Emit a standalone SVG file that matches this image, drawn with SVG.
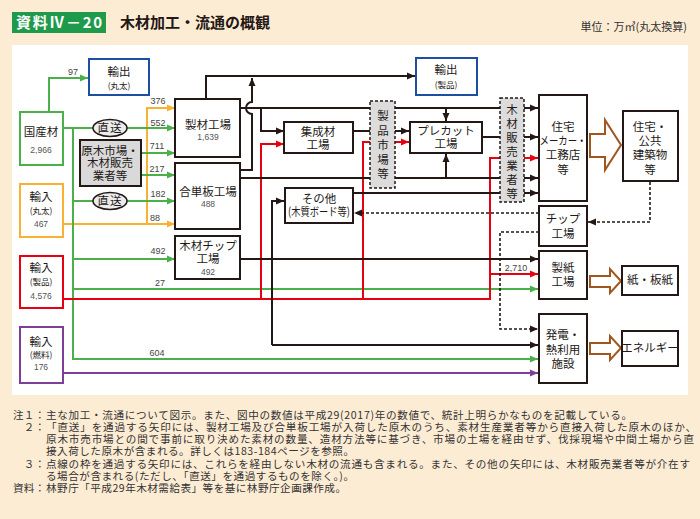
<svg xmlns="http://www.w3.org/2000/svg" width="700" height="519" viewBox="0 0 700 519">
<style>
.t{font-family:"Noto Sans CJK JP","Noto Sans",sans-serif;font-size:11.5px;fill:#231815;text-anchor:middle}
.n{font-family:"Liberation Sans",sans-serif;font-size:8.5px;fill:#555;text-anchor:middle}
.lb{font-family:"Liberation Sans",sans-serif;font-size:9px;fill:#444;text-anchor:middle}
.s{font-size:8.5px}
.note{font-family:"Noto Sans CJK JP","Noto Sans",sans-serif;font-size:10.6px;fill:#333}
.box{fill:#fff;stroke:#231815;stroke-width:2}
.gray{fill:#d9d9d9;stroke:#231815;stroke-width:2}
.dbox{fill:#dcdcdc;stroke:#231815;stroke-width:1.5;stroke-dasharray:3 2}
.g{stroke:#4cb04a;stroke-width:2;fill:none}
.o{stroke:#f8b133;stroke-width:2;fill:none}
.r{stroke:#e60012;stroke-width:2;fill:none}
.k{stroke:#231815;stroke-width:2;fill:none}
.p{stroke:#7d3f98;stroke-width:2;fill:none}
.d{stroke:#231815;stroke-width:1.6;fill:none;stroke-dasharray:3 2}
.br{fill:#fff;stroke:#a0561f;stroke-width:2}
</style>
<defs>
<marker id="ag" viewBox="0 0 8 8" markerWidth="8" markerHeight="8" refX="8" refY="4" markerUnits="userSpaceOnUse" orient="auto"><path d="M0,0.5 L8,4 L0,7.5z" fill="#4cb04a"/></marker>
<marker id="ao" viewBox="0 0 8 8" markerWidth="8" markerHeight="8" refX="8" refY="4" markerUnits="userSpaceOnUse" orient="auto"><path d="M0,0.5 L8,4 L0,7.5z" fill="#f8b133"/></marker>
<marker id="ar" viewBox="0 0 8 8" markerWidth="8" markerHeight="8" refX="8" refY="4" markerUnits="userSpaceOnUse" orient="auto"><path d="M0,0.5 L8,4 L0,7.5z" fill="#e60012"/></marker>
<marker id="ak" viewBox="0 0 8 8" markerWidth="8" markerHeight="8" refX="8" refY="4" markerUnits="userSpaceOnUse" orient="auto"><path d="M0,0.5 L8,4 L0,7.5z" fill="#231815"/></marker>
<marker id="ap" viewBox="0 0 8 8" markerWidth="8" markerHeight="8" refX="8" refY="4" markerUnits="userSpaceOnUse" orient="auto"><path d="M0,0.5 L8,4 L0,7.5z" fill="#7d3f98"/></marker>
</defs>
<rect width="700" height="519" fill="#fdecd4"/>
<rect x="12" y="45" width="676" height="350" fill="#fff"/>
<g id="title">
<rect x="12" y="12" width="94" height="21" fill="#1f9a4a"/>
<text x="16" y="28" font-family="Noto Sans CJK JP,sans-serif" font-size="15" font-weight="bold" fill="#fff" textLength="86">資料Ⅳ－20</text>
<text x="120" y="28" font-family="Noto Sans CJK JP,sans-serif" font-size="15" font-weight="bold" fill="#231815">木材加工・流通の概観</text>
<text x="687" y="31" font-family="Noto Sans CJK JP,sans-serif" font-size="11" fill="#333" text-anchor="end">単位：万㎥(丸太換算)</text>
</g>
<g id="connectors">
<path class="o" d="M63,224 H175" marker-end="url(#ao)"/>
<path class="o" d="M147,224 V108 H175" marker-end="url(#ao)"/>
<path class="g" d="M49,112 V78 H88" marker-end="url(#ag)"/>
<path class="g" d="M63,128 H175" marker-end="url(#ag)"/>
<path class="g" d="M73,128 V359 H538" marker-end="url(#ag)"/>
<path class="g" d="M141,153 H175" marker-end="url(#ag)"/>
<path class="g" d="M141,175 H175" marker-end="url(#ag)"/>
<path class="g" d="M73,201 H175" marker-end="url(#ag)"/>
<path class="g" d="M73,259 H175" marker-end="url(#ag)"/>
<path class="g" d="M73,289 H538" marker-end="url(#ag)"/>
<path class="r" d="M63,299 H490 V158 H538" marker-end="url(#ar)"/>
<path class="r" d="M261,299 V144 H284" marker-end="url(#ar)"/>
<path class="r" d="M363,299 V142 H409" marker-end="url(#ar)"/>
<path class="r" d="M490,274 H538" marker-end="url(#ar)"/>
<path class="p" d="M63,373 H538" marker-end="url(#ap)"/>
<path class="k" d="M206,99 V76 H415" marker-end="url(#ak)"/>
<path class="k" d="M240,170 H252 V114 A6,6 0 0 1 252,102 V78" marker-end="url(#ak)"/>
<path class="k" d="M240,108 H538" marker-end="url(#ak)"/>
<path class="k" d="M261,108 V131 H284" marker-end="url(#ak)"/>
<path class="k" d="M446,108 V121" marker-end="url(#ak)"/>
<path class="k" d="M353,131 H409" marker-end="url(#ak)"/>
<path class="k" d="M482,137 H538" marker-end="url(#ak)"/>
<path class="k" d="M240,178 H538" marker-end="url(#ak)"/>
<path class="k" d="M446,178 V154" marker-end="url(#ak)"/>
<path class="k" d="M353,193 H538" marker-end="url(#ak)"/>
<path class="k" d="M240,259 H538" marker-end="url(#ak)"/>
<path class="k" d="M272,345 V201 H284" marker-end="url(#ak)"/>
<path class="k" d="M272,345 H538" marker-end="url(#ak)"/>
<path class="d" d="M650,182 V222 H588" marker-end="url(#ak)"/>
<path class="d" d="M539,213 H354" marker-end="url(#ak)"/>
<path class="d" d="M539,232 H500 V329 H538" marker-end="url(#ak)"/>
<path class="br" d="M590,134 H605 V120 L621,145 L605,170 V157 H590 Z"/>
<path class="br" d="M590,276 H610 V269 L621,281 L610,293 V287 H590 Z"/>
<path class="br" d="M590,343 H610 V336 L621,348 L610,360 V354 H590 Z"/>
<text class="lb" x="73" y="75">97</text>
<text class="lb" x="158" y="104">376</text>
<text class="lb" x="158" y="126">552</text>
<text class="lb" x="157" y="149">711</text>
<text class="lb" x="157" y="172">217</text>
<text class="lb" x="158" y="197">182</text>
<text class="lb" x="155" y="221">88</text>
<text class="lb" x="158" y="254">492</text>
<text class="lb" x="160" y="286">27</text>
<text class="lb" x="157" y="356">604</text>
<text class="lb" x="516" y="271">2,710</text>
</g>
<g id="kokusanzai"><rect x="20" y="112" width="43" height="53" fill="#fff" stroke="#4cb04a" stroke-width="2"/><text class="t" x="41" y="136">国産材</text><text class="n" x="41" y="153">2,966</text></g>
<g id="yushutsu-maruta"><rect x="89" y="59" width="60" height="36" fill="#fff" stroke="#1d4ea0" stroke-width="2"/><text class="t" x="119" y="76">輸出</text><text class="t s" x="119" y="89">(丸太)</text></g>
<g id="genboku"><rect class="gray" x="80" y="140" width="61" height="46"/><text class="t" x="110" y="155" font-size="11">原木市場・</text><text class="t" x="110" y="167" font-size="11">木材販売</text><text class="t" x="110" y="180" font-size="11">業者等</text></g>
<g id="chokuso1"><ellipse cx="110" cy="128" rx="17" ry="8.5" fill="#ececec" stroke="#231815" stroke-width="1.5"/><text class="t" x="110" y="132" font-size="11" letter-spacing="1">直送</text></g>
<g id="chokuso2"><ellipse cx="110" cy="201" rx="17" ry="8.5" fill="#ececec" stroke="#231815" stroke-width="1.5"/><text class="t" x="110" y="205" font-size="11" letter-spacing="1">直送</text></g>
<g id="yunyu-maruta"><rect x="20" y="184" width="43" height="53" fill="#fff" stroke="#f8b133" stroke-width="2"/><text class="t" x="41" y="201">輸入</text><text class="t s" x="41" y="214">(丸太)</text><text class="n" x="41" y="227">467</text></g>
<g id="yunyu-seihin"><rect x="20" y="256" width="43" height="52" fill="#fff" stroke="#e60012" stroke-width="2"/><text class="t" x="41" y="272">輸入</text><text class="t s" x="41" y="285">(製品)</text><text class="n" x="41" y="299">4,576</text></g>
<g id="yunyu-nenryo"><rect x="20" y="327" width="43" height="56" fill="#fff" stroke="#7d3f98" stroke-width="2"/><text class="t" x="41" y="346">輸入</text><text class="t s" x="41" y="358">(燃料)</text><text class="n" x="41" y="370">176</text></g>
<g id="seizai"><rect class="box" x="175" y="99" width="65" height="58"/><text class="t" x="208" y="129">製材工場</text><text class="n" x="208" y="140">1,639</text></g>
<g id="goutanpan"><rect class="box" x="175" y="163" width="65" height="66"/><text class="t" x="208" y="196">合単板工場</text><text class="n" x="208" y="207">488</text></g>
<g id="chip-factory"><rect class="box" x="175" y="236" width="65" height="43"/><text class="t" x="208" y="250">木材チップ</text><text class="t" x="208" y="263">工場</text><text class="n" x="208" y="275">492</text></g>
<g id="yushutsu-seihin"><rect x="416" y="58" width="61" height="37" fill="#fff" stroke="#1d4ea0" stroke-width="2"/><text class="t" x="446" y="74">輸出</text><text class="t s" x="446" y="88">(製品)</text></g>
<g id="shuseizai"><rect class="box" x="284" y="122" width="69" height="31"/><text class="t" x="318" y="136">集成材</text><text class="t" x="318" y="149">工場</text></g>
<g id="precut"><rect class="box" x="410" y="122" width="72" height="31"/><text class="t" x="446" y="135">プレカット</text><text class="t" x="446" y="148">工場</text></g>
<g id="sonota"><rect class="box" x="285" y="188" width="68" height="35"/><text class="t" x="319" y="203">その他</text><text class="t" x="319" y="216" font-size="8" textLength="62" lengthAdjust="spacingAndGlyphs">(木質ボード等)</text></g>
<g id="seihin-ichiba"><rect class="dbox" x="370" y="101" width="25" height="87"/><text class="t" x="383" y="120">製</text><text class="t" x="383" y="135">品</text><text class="t" x="383" y="149">市</text><text class="t" x="383" y="164">場</text><text class="t" x="383" y="178">等</text></g>
<g id="hanbai"><rect class="dbox" x="500" y="98" width="24" height="104"/><text class="t" x="512" y="114">木</text><text class="t" x="512" y="128">材</text><text class="t" x="512" y="142">販</text><text class="t" x="512" y="156">売</text><text class="t" x="512" y="170">業</text><text class="t" x="512" y="184">者</text><text class="t" x="512" y="198">等</text></g>
<g id="jutaku-maker"><rect class="box" x="539" y="95" width="48" height="106"/><text class="t" x="563" y="131">住宅</text><text class="t" x="563" y="145" textLength="47" lengthAdjust="spacingAndGlyphs">メーカー・</text><text class="t" x="563" y="159">工務店</text><text class="t" x="563" y="174">等</text></g>
<g id="jutaku-kokyo"><rect class="box" x="623" y="111" width="55" height="70"/><text class="t" x="650" y="131">住宅・</text><text class="t" x="650" y="145">公共</text><text class="t" x="650" y="159">建築物</text><text class="t" x="650" y="174">等</text></g>
<g id="chip-kojo"><rect class="box" x="539" y="206" width="48" height="40"/><text class="t" x="563" y="223">チップ</text><text class="t" x="563" y="238">工場</text></g>
<g id="seishi"><rect class="box" x="539" y="251" width="48" height="48"/><text class="t" x="563" y="272">製紙</text><text class="t" x="563" y="286">工場</text></g>
<g id="kami"><rect class="box" x="622" y="266" width="56" height="29"/><text class="t" x="650" y="284">紙・板紙</text></g>
<g id="hatsuden"><rect class="box" x="539" y="314" width="48" height="69"/><text class="t" x="563" y="339">発電・</text><text class="t" x="563" y="354">熱利用</text><text class="t" x="563" y="368">施設</text></g>
<g id="energy"><rect class="box" x="622" y="331" width="56" height="35"/><text class="t" x="650" y="352">エネルギー</text></g>
<g id="notes">
<text class="note" x="45" y="419" text-anchor="end" textLength="32">注１：</text>
<text class="note" x="46" y="419" textLength="586">主な加工・流通について図示。また、図中の数値は平成29(2017)年の数値で、統計上明らかなものを記載している。</text>
<text class="note" x="45" y="431" text-anchor="end">２：</text>
<text class="note" x="46" y="431" textLength="650">「直送」を通過する矢印には、製材工場及び合単板工場が入荷した原木のうち、素材生産業者等から直接入荷した原木のほか、</text>
<text class="note" x="46" y="443" textLength="648">原木市売市場との間で事前に取り決めた素材の数量、造材方法等に基づき、市場の土場を経由せず、伐採現場や中間土場から直</text>
<text class="note" x="46" y="455" textLength="308">接入荷した原木が含まれる。詳しくは183-184ページを参照。</text>
<text class="note" x="45" y="468" text-anchor="end">３：</text>
<text class="note" x="46" y="468" textLength="644">点線の枠を通過する矢印には、これらを経由しない木材の流通も含まれる。また、その他の矢印には、木材販売業者等が介在す</text>
<text class="note" x="46" y="480" textLength="308">る場合が含まれる(ただし、「直送」を通過するものを除く。)。</text>
<text class="note" x="45" y="492" text-anchor="end" textLength="32">資料：</text>
<text class="note" x="46" y="492" textLength="300">林野庁「平成29年木材需給表」等を基に林野庁企画課作成。</text>
</g>
</svg>
